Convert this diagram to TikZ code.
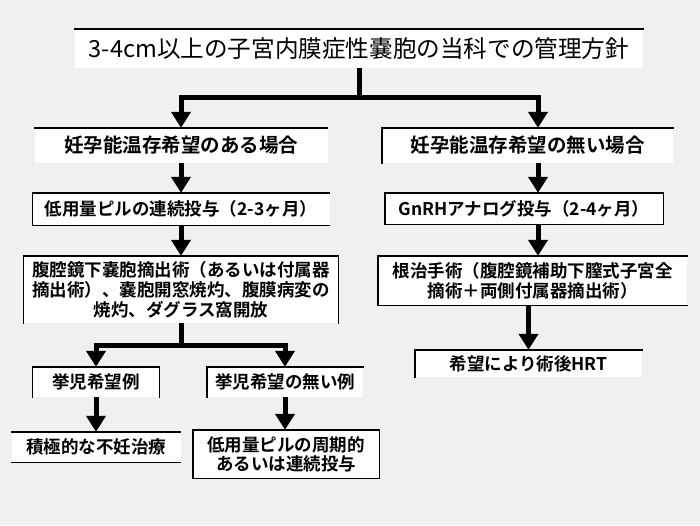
\documentclass[tikz,border=0pt]{standalone}
\usepackage{fontspec}
\setmainfont{Noto Sans CJK JP}[BoldFont={Noto Sans CJK JP Bold}]
\usetikzlibrary{arrows.meta}
\definecolor{bg}{RGB}{240,240,240}
\begin{document}
\begin{tikzpicture}[x=1pt,y=-1pt,
  box/.style={fill=white, inner sep=0pt, align=center, font=\bfseries\fontsize{17.5}{20}\selectfont},
  big/.style={font=\bfseries\fontsize{19.5}{22}\selectfont},
  ln/.style={line width=5pt},
  arr/.style={line width=5pt,-{Triangle[width=19pt,length=16pt]}},
  bd/.style={line width=1.4pt, line cap=rect}]
\path[fill=bg] (0,0) rectangle (700,525);
\useasboundingbox (0,0) rectangle (700,525);

% nodes
\node[box, font=\fontsize{23.6}{28}\selectfont, minimum width=568pt, minimum height=39pt] (title) at (359,48.5) {3-4cm以上の子宮内膜症性嚢胞の当科での管理方針};
\node[box, big, minimum width=293pt, minimum height=35pt] (L1) at (181,145.5) {妊孕能温存希望のある場合};
\node[box, big, minimum width=291pt, minimum height=35pt] (R1) at (527.5,145.5) {妊孕能温存希望の無い場合};
\node[box, minimum width=297pt, minimum height=32pt] (L2) at (181,209) {低用量ピルの連続投与（2-3ヶ月）};
\node[box, minimum width=278pt, minimum height=31pt] (R2) at (524,208.5) {GnRHアナログ投与（2-4ヶ月）};
\node[box, minimum width=315pt, minimum height=67pt] (L3) at (181,289.5) {腹腔鏡下嚢胞摘出術（あるいは付属器\\摘出術）、嚢胞開窓焼灼、腹膜病変の\\焼灼、ダグラス窩開放};
\node[box, minimum width=309pt, minimum height=49pt] (R3) at (532.5,280.5) {根治手術（腹腔鏡補助下膣式子宮全\\摘術＋両側付属器摘出術）};
\node[box, minimum width=127pt, minimum height=30pt] (A1) at (96,382) {挙児希望例};
\node[box, minimum width=156pt, minimum height=30pt] (A2) at (285,382) {挙児希望の無い例};
\node[box, minimum width=169pt, minimum height=30pt] (B1) at (96,447) {積極的な不妊治療};
\node[box, font=\bfseries\fontsize{17.5}{19}\selectfont, minimum width=186pt, minimum height=48pt] (B2) at (286,454) {低用量ピルの周期的\\あるいは連続投与};
\node[box, minimum width=227pt, minimum height=27pt] (R4) at (528.5,363.5) {希望により術後HRT};

% partial borders
\draw[bd] (title.north west) -- (title.north east);
\draw[bd] (L1.north west) -- (L1.north east);
\draw[bd] (R1.south west) -- (R1.north west) -- (R1.north east);
\draw[bd] (L2.north east) -- (L2.north west) -- (L2.south west) -- (L2.south east);
\draw[bd] (R2.north west) rectangle (R2.south east);
\draw[bd] (L3.south west) -- (L3.north west) -- (L3.north east) -- (L3.south east);
\draw[bd] (R3.north east) -- (R3.north west) -- (R3.south west) -- (R3.south east);
\draw[bd] (A1.south west) -- (A1.north west) -- (A1.north east) -- (A1.south east);
\draw[bd] (A2.south west) -- (A2.north west) -- (A2.north east);
\draw[bd] (B1.north west) -- (B1.north east);
\draw[bd] (B1.south west) -- (B1.south east);
\draw[bd] (B2.north west) rectangle (B2.south east);
\draw[bd] (R4.south west) -- (R4.north west) -- (R4.north east);

% connectors
\coordinate (j0) at (359,97);
\coordinate (jl) at (181,97);
\coordinate (jr) at (538,97);
\coordinate (xr) at (538,0);
\draw[ln] (title.south) -- (j0);
\draw[ln, line cap=rect] (jl) -- (jr);
\draw[arr] (jl) -- (jl |- L1.north);
\draw[arr] (jr) -- (jr |- R1.north);
\draw[arr] (L1.south) -- (L2.north);
\draw[arr] (L2.south) -- (L3.north);
\draw[arr] (R1.south -| xr) -- (R2.north -| xr);
\draw[arr] (R2.south -| xr) -- (R3.north -| xr);
\draw[arr] (R4.north |- R3.south) -- (R4.north);
\coordinate (js) at (181,345);
\draw[ln] (L3.south) -- (js);
\draw[ln, line cap=rect] (js -| A1.north) -- (js -| A2.north);
\draw[arr] (js -| A1.north) -- (A1.north);
\draw[arr] (js -| A2.north) -- (A2.north);
\draw[arr] (A1.south) -- (B1.north);
\draw[arr] (A2.south) -- (A2.south |- B2.north);
\end{tikzpicture}
\end{document}
